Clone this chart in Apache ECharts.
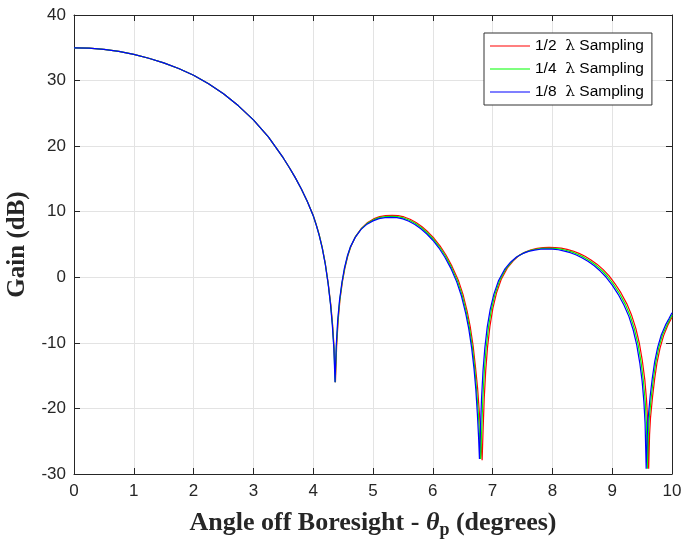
<!DOCTYPE html>
<html>
<head>
<meta charset="utf-8">
<script src="https://cdn.jsdelivr.net/npm/echarts@6/dist/echarts.min.js"></script>
<style>
html,body{margin:0;padding:0;background:#fff;}
#chart{width:681px;height:546px;}
</style>
</head>
<body>
<div id="chart"></div>
<script>
// ---- data ----
const seriesNames = ['1/2 λ Sampling', '1/4 λ Sampling', '1/8 λ Sampling'];
const xTicks = [0,1,2,3,4,5,6,7,8,9,10];
const yTicks = [-30,-20,-10,0,10,20,30,40];

// 1/2 lambda sampling (red)
const angleHalf = [0,0.25,0.5,0.75,1,1.25,1.5,1.75,2,2.25,2.5,2.75,3,3.25,3.5,3.6,3.7,3.8,3.9,4.0,4.05,4.1,4.15,4.2,4.25,4.295,4.325,4.35,4.372,4.392,4.418,4.448,4.488,4.53,4.58,4.63,4.71,4.81,4.91,5.01,5.11,5.21,5.32,5.42,5.52,5.62,5.72,5.82,5.92,6.02,6.12,6.22,6.32,6.425,6.505,6.575,6.625,6.675,6.715,6.75,6.78,6.8,6.825,6.84,6.86,6.885,6.915,6.955,7.005,7.065,7.145,7.245,7.345,7.445,7.545,7.645,7.745,7.845,7.945,8.045,8.145,8.245,8.345,8.445,8.545,8.645,8.745,8.845,8.945,9.045,9.145,9.245,9.325,9.395,9.455,9.505,9.545,9.575,9.595,9.61,9.625,9.64,9.675,9.71,9.75,9.8,9.86,9.93,10.0];
const gainHalf = [35.0,34.95,34.75,34.45,34.0,33.4,32.7,31.85,30.8,29.5,28.0,26.15,24.0,21.4,18.2,16.75,15.2,13.5,11.6,9.45,8.05,6.5,4.6,2.25,-0.85,-4.2,-7.3,-10.8,-16.0,-10.5,-6.5,-3.4,-0.7,1.4,3.3,4.7,6.25,7.5,8.35,8.9,9.25,9.4,9.45,9.4,9.2,8.85,8.35,7.7,6.9,5.95,4.8,3.4,1.7,-0.4,-2.6,-5.2,-7.5,-10.5,-13.8,-17.0,-20.8,-24.3,-27.9,-23.5,-18.5,-14.2,-10.7,-7.5,-4.7,-2.4,-0.3,1.4,2.5,3.35,3.85,4.2,4.4,4.52,4.55,4.52,4.45,4.25,4.0,3.65,3.2,2.65,2.0,1.2,0.25,-0.95,-2.35,-4.05,-5.8,-7.8,-10.1,-12.8,-15.6,-18.8,-22.2,-29.2,-24.0,-21.5,-18.2,-15.5,-13.0,-10.8,-8.9,-7.3,-6.1];

// 1/4 lambda sampling (green)
const angleQuarter = [0,0.25,0.5,0.75,1,1.25,1.5,1.75,2,2.25,2.5,2.75,3,3.25,3.5,3.6,3.7,3.8,3.9,4.0,4.05,4.1,4.15,4.2,4.25,4.292,4.322,4.347,4.368,4.388,4.414,4.444,4.484,4.525,4.575,4.625,4.705,4.805,4.905,5.005,5.105,5.205,5.31,5.41,5.51,5.61,5.71,5.81,5.91,6.01,6.11,6.21,6.31,6.412,6.492,6.562,6.612,6.662,6.702,6.732,6.762,6.782,6.80,6.817,6.837,6.862,6.892,6.932,6.982,7.042,7.122,7.222,7.322,7.422,7.522,7.622,7.722,7.822,7.922,8.022,8.122,8.222,8.322,8.422,8.522,8.622,8.722,8.822,8.922,9.022,9.122,9.222,9.302,9.372,9.432,9.482,9.52,9.552,9.572,9.588,9.603,9.62,9.655,9.69,9.73,9.78,9.84,9.91,10.0];
const gainQuarter = [35.0,34.95,34.75,34.45,34.0,33.4,32.7,31.85,30.8,29.5,28.0,26.15,24.0,21.4,18.2,16.75,15.2,13.5,11.6,9.42,8.02,6.45,4.55,2.15,-0.95,-4.2,-7.3,-10.8,-16.0,-10.5,-6.5,-3.45,-0.75,1.35,3.25,4.65,6.15,7.4,8.22,8.75,9.1,9.25,9.3,9.25,9.05,8.7,8.2,7.55,6.75,5.8,4.65,3.25,1.55,-0.55,-2.75,-5.35,-7.65,-10.65,-13.9,-17.1,-20.8,-24.3,-27.7,-23.5,-18.5,-14.2,-10.75,-7.55,-4.8,-2.5,-0.4,1.3,2.4,3.22,3.72,4.07,4.27,4.4,4.42,4.4,4.32,4.12,3.87,3.52,3.07,2.52,1.87,1.07,0.12,-1.07,-2.47,-4.17,-5.9,-7.9,-10.2,-12.9,-15.7,-18.9,-22.2,-29.2,-24.2,-21.5,-18.1,-15.4,-12.9,-10.7,-8.8,-7.4,-5.75];

// 1/8 lambda sampling (blue)
const angleEighth = [0,0.25,0.5,0.75,1,1.25,1.5,1.75,2,2.25,2.5,2.75,3,3.25,3.5,3.6,3.7,3.8,3.9,4.0,4.05,4.1,4.15,4.2,4.25,4.29,4.32,4.345,4.365,4.385,4.41,4.44,4.48,4.52,4.57,4.62,4.7,4.8,4.9,5.0,5.1,5.2,5.3,5.4,5.5,5.6,5.7,5.8,5.9,6.0,6.1,6.2,6.3,6.4,6.48,6.55,6.6,6.65,6.69,6.72,6.745,6.765,6.78,6.795,6.815,6.84,6.87,6.91,6.96,7.02,7.1,7.2,7.3,7.4,7.5,7.6,7.7,7.8,7.9,8.0,8.1,8.2,8.3,8.4,8.5,8.6,8.7,8.8,8.9,9.0,9.1,9.2,9.28,9.35,9.41,9.46,9.5,9.53,9.55,9.568,9.585,9.6,9.635,9.67,9.71,9.76,9.82,9.89,9.95,10.0];
const gainEighth = [35.0,34.95,34.75,34.45,34.0,33.4,32.7,31.85,30.8,29.5,28.0,26.15,24.0,21.4,18.2,16.75,15.2,13.5,11.6,9.4,8.0,6.4,4.5,2.1,-1.0,-4.2,-7.3,-10.8,-16.0,-10.5,-6.5,-3.5,-0.8,1.3,3.2,4.6,6.05,7.3,8.1,8.6,8.95,9.1,9.15,9.1,8.9,8.55,8.05,7.4,6.6,5.65,4.5,3.1,1.4,-0.7,-2.9,-5.5,-7.8,-10.8,-14.0,-17.2,-20.8,-24.3,-27.7,-23.5,-18.5,-14.2,-10.8,-7.6,-4.9,-2.6,-0.5,1.2,2.3,3.1,3.6,3.95,4.15,4.28,4.3,4.28,4.2,4.0,3.75,3.4,2.95,2.4,1.75,0.95,0.0,-1.2,-2.6,-4.3,-6.0,-8.0,-10.3,-13.0,-15.8,-19.0,-22.3,-29.2,-24.3,-21.6,-18.1,-15.4,-12.9,-10.7,-8.8,-7.3,-6.3,-5.4];

const colors = ['#ff0000', '#00ff00', '#0000ff'];

function pairs(xs, ys){ return xs.map((x,i)=>[x, ys[i]]); }

const axisColor = '#262626';
const gridColor = '#e3e3e3';
const lineIcon = 'path://M0,0L40,0L40,1L0,1Z';

const chart = echarts.init(document.getElementById('chart'), null, {renderer:'canvas'});
chart.setOption({
  animation: false,
  backgroundColor: '#ffffff',
  grid: {left: 74, right: 9, top: 15, bottom: 72, containLabel: false, outerBoundsMode: 'none'},
  legend: {
    orient: 'vertical',
    left: 484, top: 33,
    padding: [4, 8, 4, 6],
    itemGap: 5,
    itemWidth: 40,
    itemHeight: 14,
    icon: lineIcon,
    backgroundColor: '#ffffff',
    borderColor: '#333333',
    borderWidth: 1,
    borderRadius: 0,
    data: seriesNames,
    formatter: function(name){
      const parts = name.split(' λ ');
      return parts[0] + '  {l|λ} ' + parts[1];
    },
    textStyle: {
      fontFamily: 'Liberation Sans, Arial, sans-serif',
      fontSize: 15.5,
      lineHeight: 18,
      color: '#000',
      rich: {
        l: {fontFamily: 'DejaVu Serif, serif', fontSize: 15.5, lineHeight: 18, color: '#000'}
      }
    }
  },
  xAxis: [{
    type: 'value', min: xTicks[0], max: xTicks[xTicks.length-1], interval: 1,
    position: 'bottom',
    name: 'Angle off Boresight - {th|θ}{sub|p} (degrees)',
    nameLocation: 'middle', nameGap: 33,
    nameTextStyle: {
      fontFamily: 'Liberation Serif, Times New Roman, serif',
      fontWeight: 'bold', fontSize: 26, color: axisColor,
      rich: {
        th: {fontFamily: 'Liberation Serif, serif', fontStyle: 'italic', fontWeight: 'bold', fontSize: 26, color: axisColor},
        sub: {fontFamily: 'Liberation Serif, serif', fontWeight: 'bold', fontSize: 18, color: axisColor, padding: [14,0,0,0]}
      }
    },
    axisLine: {show: true, onZero: false, lineStyle: {color: axisColor, width: 1}},
    axisTick: {show: true, inside: true, length: 6, lineStyle: {color: axisColor}},
    axisLabel: {fontFamily: 'Liberation Sans, Arial, sans-serif', fontSize: 17, color: axisColor, margin: 9},
    splitLine: {show: true, lineStyle: {color: gridColor, width: 1}}
  }, {
    type: 'value', min: xTicks[0], max: xTicks[xTicks.length-1], interval: 1,
    position: 'top',
    axisLine: {show: true, onZero: false, lineStyle: {color: axisColor, width: 1}},
    axisTick: {show: true, inside: true, length: 6, lineStyle: {color: axisColor}},
    axisLabel: {show: false},
    splitLine: {show: false}
  }],
  yAxis: [{
    type: 'value', min: yTicks[0], max: yTicks[yTicks.length-1], interval: 10,
    position: 'left',
    name: 'Gain (dB)',
    nameLocation: 'middle', nameGap: 37, nameRotate: 90,
    nameTextStyle: {fontFamily: 'Liberation Serif, Times New Roman, serif', fontWeight: 'bold', fontSize: 25, color: axisColor},
    axisLine: {show: true, onZero: false, lineStyle: {color: axisColor, width: 1}},
    axisTick: {show: true, inside: true, length: 6, lineStyle: {color: axisColor}},
    axisLabel: {fontFamily: 'Liberation Sans, Arial, sans-serif', fontSize: 17, color: axisColor, margin: 8},
    splitLine: {show: true, lineStyle: {color: gridColor, width: 1}}
  }, {
    type: 'value', min: yTicks[0], max: yTicks[yTicks.length-1], interval: 10,
    position: 'right',
    axisLine: {show: true, onZero: false, lineStyle: {color: axisColor, width: 1}},
    axisTick: {show: true, inside: true, length: 6, lineStyle: {color: axisColor}},
    axisLabel: {show: false},
    splitLine: {show: false}
  }],
  series: [
    {name: seriesNames[0], type: 'line', data: pairs(angleHalf, gainHalf), symbol: 'none', smooth: false,
     lineStyle: {color: colors[0], width: 1.2}, itemStyle: {color: colors[0]}, clip: true},
    {name: seriesNames[1], type: 'line', data: pairs(angleQuarter, gainQuarter), symbol: 'none', smooth: false,
     lineStyle: {color: colors[1], width: 1.2}, itemStyle: {color: colors[1]}, clip: true},
    {name: seriesNames[2], type: 'line', data: pairs(angleEighth, gainEighth), symbol: 'none', smooth: false,
     lineStyle: {color: colors[2], width: 1.2}, itemStyle: {color: colors[2]}, clip: true}
  ]
});
</script>
</body>
</html>
